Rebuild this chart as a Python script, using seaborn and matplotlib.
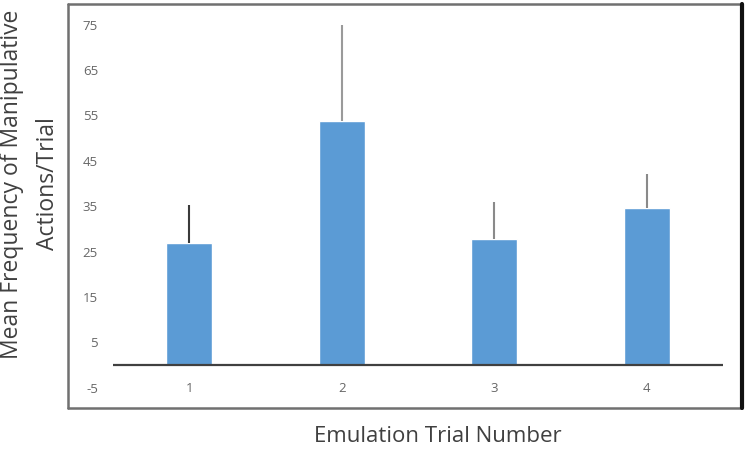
import matplotlib
matplotlib.use("Agg")
import matplotlib.pyplot as plt
from matplotlib.lines import Line2D
import seaborn as sns
import pandas as pd

# ---- data ----
trials = ["1", "2", "3", "4"]
means = [26.8, 53.7, 27.8, 34.6]
upper_err = [8.4, 21.2, 8.2, 7.5]
err_colors = ["#3a3a3a", "#9a9a9a", "#8a8a8a", "#8a8a8a"]
yticks = [-5, 5, 15, 25, 35, 45, 55, 65, 75]

sns.set_theme(style="white")
plt.rcParams["font.family"] = ["Open Sans", "DejaVu Sans"]

W, H = 750, 450
fig = plt.figure(figsize=(7.5, 4.5), dpi=100)
fig.patch.set_facecolor("white")

def fx(px):
    return px / W

def fy(py):
    return 1 - py / H

ax = fig.add_axes([fx(113), fy(395), (723 - 113) / W, (395 - 10) / H])
ax.set_facecolor("none")

df = pd.DataFrame({"trial": trials, "mean": means})
sns.barplot(data=df, x="trial", y="mean", color="#5B9BD5", saturation=1,
            width=0.30, ax=ax, errorbar=None, zorder=2)

for i, (m, e, c) in enumerate(zip(means, upper_err, err_colors)):
    ax.errorbar(i, m, yerr=[[0], [e]], fmt="none", ecolor=c,
                elinewidth=1.5, capsize=0, zorder=3)

ax.axhline(0, color="#404040", lw=1.6, zorder=4)
ax.set_xlim(-0.5, 3.5)
ax.set_ylim(-6.6, 78.2)
ax.set_yticks(yticks)
ax.set_yticklabels([str(t) for t in yticks])
for s in ax.spines.values():
    s.set_visible(False)
ax.tick_params(axis="y", length=0, pad=10.8, labelsize=9.5, labelcolor="#666666")
ax.tick_params(axis="x", length=0, pad=-9, labelsize=9.5, labelcolor="#666666")
ax.set_xlabel("")
ax.set_ylabel("")

# axis titles
fig.text(fx(12), fy(184), "Mean Frequency of Manipulative", rotation=90,
         ha="center", va="center", fontsize=16.5, color="#404040")
fig.text(fx(48), fy(184), "Actions/Trial", rotation=90,
         ha="center", va="center", fontsize=16.5, color="#404040")
fig.text(fx(438), fy(437), "Emulation Trial Number",
         ha="center", va="center", fontsize=16, color="#404040")

# outer frame
gray = "#707070"
fig.add_artist(Line2D([fx(68), fx(68)], [fy(4), fy(408)], transform=fig.transFigure, color=gray, lw=1.8))
fig.add_artist(Line2D([fx(68), fx(742)], [fy(4), fy(4)], transform=fig.transFigure, color=gray, lw=1.8))
fig.add_artist(Line2D([fx(68), fx(742)], [fy(408), fy(408)], transform=fig.transFigure, color=gray, lw=1.8))
fig.add_artist(Line2D([fx(742), fx(742)], [fy(4), fy(408)], transform=fig.transFigure, color="#111111", lw=3))

fig.savefig("out.png", dpi=100)
